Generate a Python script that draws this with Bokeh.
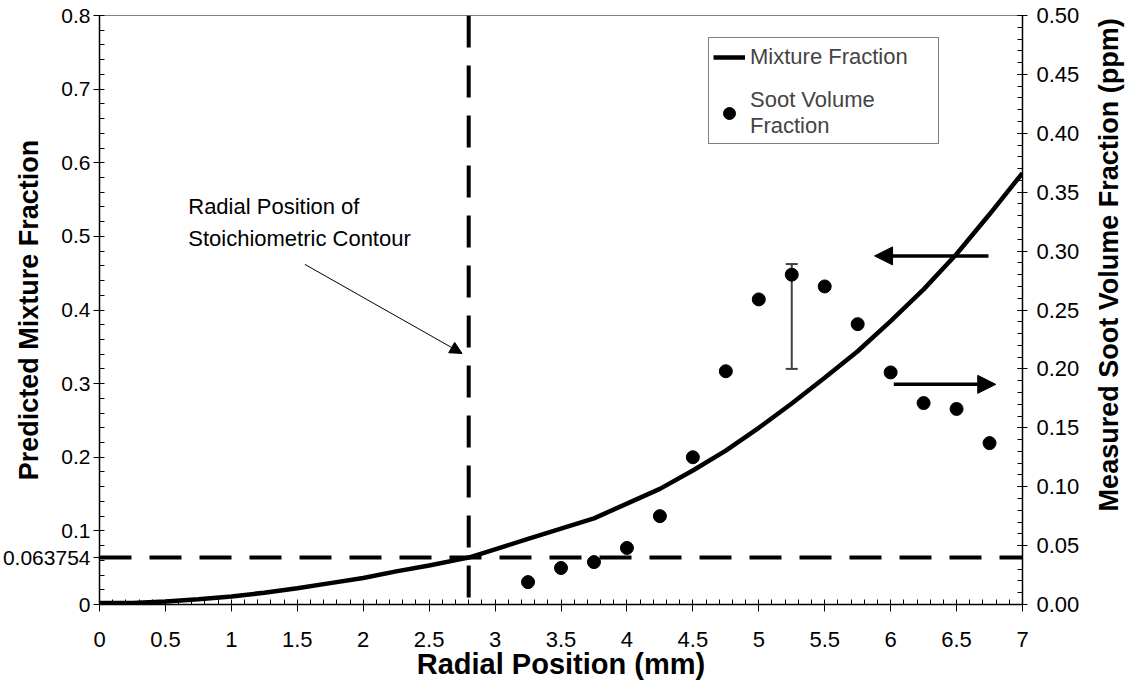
import math
from bokeh.plotting import figure
from bokeh.layouts import row
from bokeh.core.properties import value
from bokeh.models import (Range1d, LinearAxis, FixedTicker, Span, Label, Arrow,
                          NormalHead, Whisker, ColumnDataSource, TeeHead, Legend, LegendItem)
from bokeh.embed import file_html
from bokeh.resources import INLINE

# ---------------- data ----------------
radial_mm = [0, 0.25, 0.5, 0.75, 1.0, 1.25, 1.5, 1.75, 2.0, 2.25, 2.5, 2.75, 2.8, 3.0,
             3.25, 3.5, 3.75, 4.0, 4.25, 4.5, 4.75, 5.0, 5.25, 5.5, 5.75, 6.0, 6.25,
             6.5, 6.75, 7.0]
mixture_fraction = [0.002, 0.002, 0.004, 0.007, 0.011, 0.016, 0.022, 0.029, 0.036, 0.045,
                    0.053, 0.062, 0.0638, 0.075, 0.089, 0.103, 0.117, 0.137, 0.157, 0.182,
                    0.209, 0.240, 0.273, 0.308, 0.344, 0.385, 0.428, 0.476, 0.530, 0.586]

soot_r = [3.25, 3.5, 3.75, 4.0, 4.25, 4.5, 4.75, 5.0, 5.25, 5.5, 5.75, 6.0, 6.25, 6.5, 6.75]
soot_fv = [0.019, 0.031, 0.036, 0.048, 0.075, 0.125, 0.198, 0.259, 0.280, 0.270,
           0.238, 0.197, 0.171, 0.166, 0.137]

err_r = [5.25]
err_lo = [0.200]
err_hi = [0.289]

stoich_r = 2.8
stoich_z = 0.063754

x_ticks = [0, 0.5, 1, 1.5, 2, 2.5, 3, 3.5, 4, 4.5, 5, 5.5, 6, 6.5, 7]
x_tick_labels = ["0", "0.5", "1", "1.5", "2", "2.5", "3", "3.5", "4", "4.5",
                 "5", "5.5", "6", "6.5", "7"]
left_ticks = [0, stoich_z, 0.1, 0.2, 0.3, 0.4, 0.5, 0.6, 0.7, 0.8]
left_tick_labels = ["0", "0.063754", "0.1", "0.2", "0.3", "0.4", "0.5", "0.6", "0.7", "0.8"]
right_ticks = [0, 0.05, 0.1, 0.15, 0.2, 0.25, 0.3, 0.35, 0.4, 0.45, 0.5]
right_tick_labels = ["0.00", "0.05", "0.10", "0.15", "0.20", "0.25", "0.30",
                     "0.35", "0.40", "0.45", "0.50"]

x_title = "Radial Position (mm)"
left_title = "Predicted Mixture Fraction"
right_title = "Measured Soot Volume Fraction (ppm)"

FONT = "Liberation Sans"
TOTAL_W, H = 1126, 685
MAIN_W = 1082

p = figure(width=MAIN_W, height=H, x_range=Range1d(0, 7), y_range=Range1d(0, 0.8),
           output_backend="svg", toolbar_location=None,
           min_border_left=99, min_border_right=57, min_border_top=15, min_border_bottom=81)
p.xgrid.visible = False
p.ygrid.visible = False
p.outline_line_color = "#808080"
p.outline_line_width = 1
p.background_fill_color = "white"
p.border_fill_color = "white"
p.extra_y_ranges = {"soot": Range1d(0, 0.5)}

def style_axis(ax, size="22px"):
    ax.axis_line_color = "black"
    ax.axis_line_width = 1.5
    ax.major_tick_line_color = "black"
    ax.minor_tick_line_color = "black"
    ax.major_tick_line_width = 1
    ax.minor_tick_line_width = 1
    ax.major_label_text_font = FONT
    ax.major_label_text_font_size = size
    ax.major_label_text_color = "black"
    ax.axis_label_text_font = FONT
    ax.axis_label_text_font_size = "27px"
    ax.axis_label_text_font_style = "bold"
    ax.axis_label_text_color = "black"

xa = p.xaxis[0]
style_axis(xa)
xa.ticker = FixedTicker(ticks=x_ticks, minor_ticks=[i / 10 for i in range(71)])
xa.major_label_overrides = dict(zip(x_ticks, x_tick_labels))
xa.major_tick_out = 7
xa.major_tick_in = 0
xa.minor_tick_in = 5
xa.minor_tick_out = 0
xa.major_label_standoff = 20
xa.axis_label = x_title
xa.axis_label_text_font_size = "29px"
xa.axis_label_standoff = -2

ya = p.yaxis[0]
style_axis(ya, "21px")
ya.ticker = FixedTicker(ticks=left_ticks, minor_ticks=[i / 50 for i in range(41)])
ya.major_label_overrides = dict(zip(left_ticks, left_tick_labels))
ya.major_tick_out = 6
ya.major_tick_in = 0
ya.minor_tick_in = 5
ya.minor_tick_out = 0
ya.major_label_standoff = 3
ya.axis_label = left_title
ya.axis_label_standoff = -44

ra = LinearAxis(y_range_name="soot")
style_axis(ra)
ra.ticker = FixedTicker(ticks=right_ticks, minor_ticks=[i / 100 for i in range(51)])
ra.major_label_overrides = dict(zip(right_ticks, right_tick_labels))
ra.major_tick_out = 5
ra.major_tick_in = 5
ra.minor_tick_in = 5
ra.minor_tick_out = 0
ra.major_label_standoff = 9
p.add_layout(ra, "right")

# reference lines
p.add_layout(Span(location=stoich_r, dimension="height", line_color="black",
                  line_width=4, line_dash="32 18"))
p.add_layout(Span(location=stoich_z, dimension="width", line_color="black",
                  line_width=4, line_dash="32 18"))

# series
line_r = p.line(radial_mm, mixture_fraction, line_color="black", line_width=4.5)
dots_r = p.scatter(soot_r, soot_fv, size=13, fill_color="black", line_color="black",
                   y_range_name="soot")

err_src = ColumnDataSource(dict(base=err_r, lower=err_lo, upper=err_hi))
p.add_layout(Whisker(source=err_src, base="base", lower="lower", upper="upper",
                     dimension="height", y_range_name="soot",
                     line_color="#404040", line_width=2,
                     upper_head=TeeHead(size=12, line_color="#404040", line_width=2),
                     lower_head=TeeHead(size=12, line_color="#404040", line_width=2)))

# direction arrows
p.add_layout(Arrow(x_start=6.742, y_start=0.4735, x_end=5.878, y_end=0.4735,
                   line_color="black", line_width=3.5,
                   end=NormalHead(size=18, fill_color="black", line_color="black")))
p.add_layout(Arrow(x_start=6.024, y_start=0.299, x_end=6.797, y_end=0.299,
                   line_color="black", line_width=3.5,
                   end=NormalHead(size=18, fill_color="black", line_color="black")))

# stoichiometric annotation
p.add_layout(Label(x=0.673, y=0.558, text="Radial Position of\nStoichiometric Contour",
                   text_font=FONT, text_font_size="22px", text_align="left",
                   text_baseline="top", text_line_height=1.3, text_color="black"))
p.add_layout(Arrow(x_start=1.557, y_start=0.462, x_end=2.75, y_end=0.341,
                   line_color="black", line_width=1,
                   end=NormalHead(size=12, fill_color="black", line_color="black")))

# legend
legend = Legend(items=[LegendItem(label="Mixture Fraction", renderers=[line_r]),
                       LegendItem(label="Soot Volume\nFraction", renderers=[dots_r])],
                location=(609, 460), label_text_font=FONT, label_text_font_size="22px",
                glyph_width=32, glyph_height=30, label_standoff=5, padding=4,
                spacing=15, label_width=184, margin=0, border_line_color="black",
                border_line_width=1, background_fill_color="white",
                background_fill_alpha=1.0)
p.add_layout(legend)

# right-hand axis title (reads bottom-to-top, as in the reference)
t = figure(width=TOTAL_W - MAIN_W, height=H, x_range=Range1d(0, TOTAL_W - MAIN_W),
           y_range=Range1d(0, H), output_backend="svg", toolbar_location=None,
           x_axis_type=None, y_axis_type=None, min_border=0)
t.xgrid.visible = False
t.ygrid.visible = False
t.outline_line_color = None
t.background_fill_color = "white"
t.border_fill_color = "white"
t.text(x=[26], y=[H - 290], text=[right_title], angle=math.pi / 2,
       text_align="center", text_baseline="middle", text_font=value(FONT),
       text_font_size=value("27px"), text_font_style="bold", text_color="black")

layout = row(p, t)
open("out.html", "w").write(file_html(layout, INLINE))
